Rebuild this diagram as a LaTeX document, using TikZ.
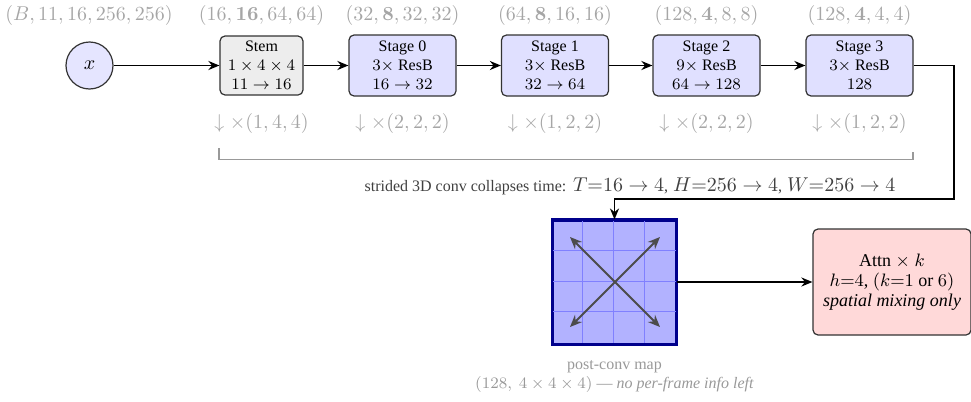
\documentclass[tikz,border=0pt]{standalone}
\usepackage[no-math]{fontspec}
\setmainfont{Liberation Serif}
\usetikzlibrary{arrows.meta,calc}
\begin{document}
\begin{tikzpicture}[x=0.5pt,y=-0.5pt,
  >={Stealth[length=5.5pt,width=4.5pt]},
  box/.style={draw=black!80, rounded corners=2.5pt, line width=0.6pt, align=center, font=\footnotesize, inner sep=1pt},
  stembox/.style={box, fill=black!7, minimum width=41.5pt, minimum height=29.5pt},
  stagebox/.style={box, fill=blue!12, minimum width=53.5pt, minimum height=30.5pt},
  inpnode/.style={circle, draw=black!80, line width=0.6pt, fill=blue!10, minimum size=23.5pt, inner sep=0pt},
  attnbox/.style={box, fill=red!15, minimum width=79pt, minimum height=53pt, font=\fontsize{9}{10}\selectfont},
  shapelbl/.style={text=black!35, font=\normalsize, inner sep=1pt},
  conn/.style={->, line width=0.9pt},
  bracketline/.style={draw=black!40, line width=0.9pt},
  note/.style={text=black!75, font=\normalsize, inner sep=1pt},
  grey/.style={text=black!40, font=\footnotesize, align=center, inner sep=1pt},
  dbl/.style={{Stealth[length=6pt,width=5pt]}-{Stealth[length=6pt,width=5pt]}, black!70, line width=1pt},
]
\useasboundingbox (0,0) rectangle (971,402);

% input
\node[inpnode] (x) at (89.5,65.5) {$x$};
\node[shapelbl] (lx) at (89,15) {$(B,11,16,256,256)$};

% stem and stages
\node[stembox] (stem) at (261.5,65.5) {Stem\\$1\times4\times4$\\$11\rightarrow16$};
\node[stagebox] (s0) at (402.5,65.5) {Stage 0\\$3\times$ ResB\\$16\rightarrow32$};
\node[stagebox] (s1) at (555,65.5) {Stage 1\\$3\times$ ResB\\$32\rightarrow64$};
\node[stagebox] (s2) at (706.5,65.5) {Stage 2\\$9\times$ ResB\\$64\rightarrow128$};
\node[stagebox] (s3) at (859.5,65.5) {Stage 3\\$3\times$ ResB\\$128$};

% shapes above
\node[shapelbl] (l0) at (261.5,15) {$(16,\mathbf{16},64,64)$};
\node[shapelbl] (l1) at (402.5,15) {$(32,\mathbf{8},32,32)$};
\node[shapelbl] (l2) at (555,15) {$(64,\mathbf{8},16,16)$};
\node[shapelbl] (l3) at (706.5,15) {$(128,\mathbf{4},8,8)$};
\node[shapelbl] (l4) at (859.5,15) {$(128,\mathbf{4},4,4)$};

% downsampling factors
\node[shapelbl] (d0) at (261.5,123) {$\downarrow\times(1,4,4)$};
\node[shapelbl] (d1) at (402.5,123) {$\downarrow\times(2,2,2)$};
\node[shapelbl] (d2) at (555,123) {$\downarrow\times(1,2,2)$};
\node[shapelbl] (d3) at (706.5,123) {$\downarrow\times(2,2,2)$};
\node[shapelbl] (d4) at (859.5,123) {$\downarrow\times(1,2,2)$};

% bracket
\coordinate (bl) at (219,148);
\coordinate (br) at (913,152);
\draw[bracketline] (bl) -- (219,159.5) -- (913,159.5) -- (br);

% arrows along top row
\draw[conn] (x) -- (stem);
\draw[conn] (stem) -- (s0);
\draw[conn] (s0) -- (s1);
\draw[conn] (s1) -- (s2);
\draw[conn] (s2) -- (s3);

% post-conv map
\node[draw=blue!55!black, line width=1pt, fill=blue!30, minimum size=61.5pt, inner sep=0pt] (map) at (614.5,282) {};
\foreach \i in {1,2,3} {
  \draw[blue!50, line width=0.5pt] ($(map.north west)+(\i*30.75,0)$) -- ($(map.south west)+(\i*30.75,0)$);
  \draw[blue!50, line width=0.5pt] ($(map.north west)+(0,\i*30.75)$) -- ($(map.north east)+(0,\i*30.75)$);
}
\draw[blue!55!black, line width=1.1pt] (map.north west) rectangle (map.south east);
\coordinate (c1) at (570,237);
\coordinate (c2) at (660,327);
\coordinate (c3) at (660,237);
\coordinate (c4) at (570,327);
\draw[dbl] (c1) -- (c2);
\draw[dbl] (c3) -- (c4);

% connector from stage 3 to map
\coordinate (k1) at (954,65.5);
\coordinate (k2) at (954,199);
\coordinate (k3) at (614.5,199);
\draw[conn] (s3.east) -- (k1) -- (k2) -- (k3) -- (map.north);
\node[note] (stride) at (630,186) {{\footnotesize strided 3D conv collapses time:} $T{=}16\rightarrow4${\footnotesize,} $H{=}256\rightarrow4${\footnotesize,} $W{=}256\rightarrow4$};

% attention
\node[attnbox] (attn) at (892,282) {Attn $\times$ $k$\\$h{=}4$, $(k{=}1$ or $6)$\\\textit{spatial mixing only}};
\draw[conn] (map) -- (attn);

\node[grey] (cap) at (614.5,376) {post-conv map\\$(128,\ 4\times4\times4)$ --- \textit{no per-frame info left}};
\end{tikzpicture}
\end{document}
